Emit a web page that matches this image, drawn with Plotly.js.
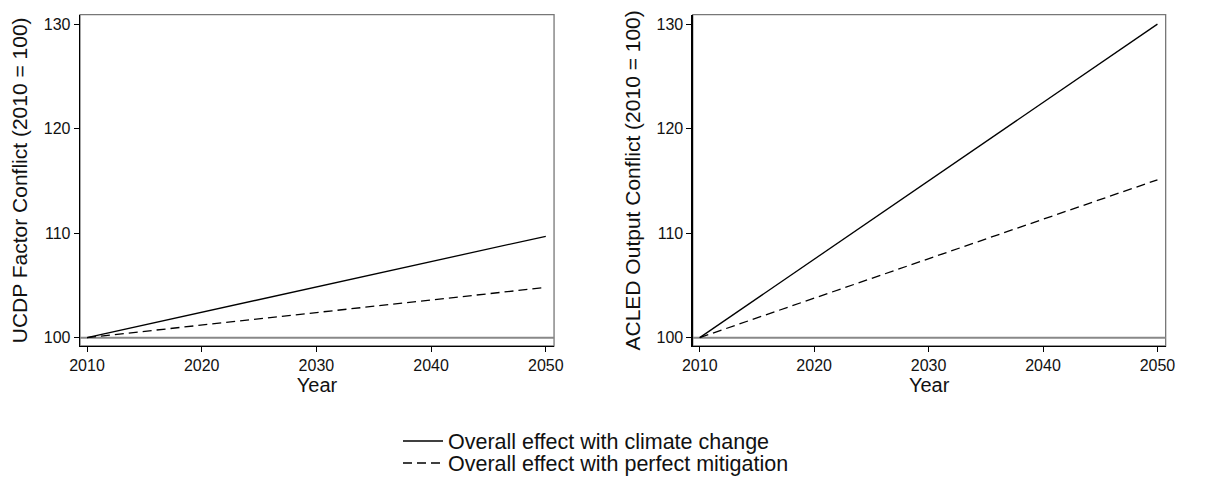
<!DOCTYPE html>
<html><head><meta charset="utf-8">
<script src="https://cdn.plot.ly/plotly-3.0.1.min.js"></script>
<style>body{margin:0;background:#fff}#c{width:1222px;height:490px}</style>
</head><body><div id="c"></div>
<script>
const years = [2010, 2050];
const ucdpClimate = [100, 109.7];
const ucdpMitigation = [100, 104.8];
const acledClimate = [100, 130.0];
const acledMitigation = [100, 115.1];
const seriesNames = ["Overall effect with climate change", "Overall effect with perfect mitigation"];
const yTitles = ["UCDP Factor Conflict (2010 = 100)", "ACLED Output Conflict (2010 = 100)"];
const xTickVals = [2010, 2020, 2030, 2040, 2050];
const yTickVals = [100, 110, 120, 130];

const FONT = "Liberation Sans, Arial, Helvetica, sans-serif";
const DASH = '9px,5px';
const traces = [
  {x: years, y: ucdpClimate, xaxis: 'x', yaxis: 'y', mode: 'lines', name: seriesNames[0], line: {color: '#000', width: 1.3}, legend: 'legend'},
  {x: years, y: ucdpMitigation, xaxis: 'x', yaxis: 'y', mode: 'lines', name: seriesNames[1], line: {color: '#000', width: 1.3, dash: DASH}, legend: 'legend2'},
  {x: years, y: acledClimate, xaxis: 'x2', yaxis: 'y2', mode: 'lines', name: seriesNames[0], line: {color: '#000', width: 1.3}, showlegend: false},
  {x: years, y: acledMitigation, xaxis: 'x2', yaxis: 'y2', mode: 'lines', name: seriesNames[1], line: {color: '#000', width: 1.3, dash: DASH}, showlegend: false}
];

function xax(dom, anchor) {
  return {domain: dom, anchor: anchor, range: [2009.39, 2050.72], tickvals: xTickVals, ticks: 'outside', ticklen: 5, tickwidth: 1, tickcolor: '#000',
    showline: true, linecolor: '#000', linewidth: 1.3, showgrid: false, zeroline: false, tickfont: {size: 16, color: '#111'},
    title: {text: 'Year', font: {size: 20, color: '#111'}, standoff: 3}, automargin: false};
}
function yax(dom, anchor, t) {
  return {domain: dom, anchor: anchor, range: [99.2, 130.9], tickvals: yTickVals, ticks: 'outside', ticklen: 5, tickwidth: 1, tickcolor: '#000',
    showline: true, linecolor: '#000', linewidth: 1.3, showgrid: false, zeroline: false, tickfont: {size: 16, color: '#111'},
    title: {text: t, font: {size: 21, color: '#111'}, standoff: 10}, automargin: false};
}
const yd = [0.2939, 0.970];
const legBase = {x: 398/1222, xanchor: 'left', yanchor: 'middle', font: {size: 21.5, color: '#111'}, bgcolor: 'rgba(0,0,0,0)', itemwidth: 40};
const layout = {
  width: 1222, height: 490, margin: {l: 0, r: 0, t: 0, b: 0},
  paper_bgcolor: '#fff', plot_bgcolor: '#fff', font: {family: FONT, color: '#111'},
  xaxis: xax([0.06547, 0.4534], 'y'),
  yaxis: yax(yd, 'x', yTitles[0]),
  xaxis2: xax([0.5669, 0.9539], 'y2'),
  yaxis2: yax(yd, 'x2', yTitles[1]),
  showlegend: true,
  legend: Object.assign({}, legBase, {y: 1 - 441/490}),
  legend2: Object.assign({}, legBase, {y: 1 - 463/490}),
  shapes: [
    {type: 'rect', xref: 'x domain', yref: 'y domain', x0: 0, x1: 1, y0: 0, y1: 1, line: {color: '#777', width: 1.3}, layer: 'below'},
    {type: 'rect', xref: 'x2 domain', yref: 'y2 domain', x0: 0, x1: 1, y0: 0, y1: 1, line: {color: '#777', width: 1.3}, layer: 'below'},
    {type: 'line', xref: 'x domain', yref: 'y', x0: 0, x1: 1, y0: 100, y1: 100, line: {color: '#888', width: 2}, layer: 'below'},
    {type: 'line', xref: 'x2 domain', yref: 'y2', x0: 0, x1: 1, y0: 100, y1: 100, line: {color: '#888', width: 2}, layer: 'below'}
  ]
};
Plotly.newPlot('c', traces, layout, {displayModeBar: false, staticPlot: true});
</script></body></html>
